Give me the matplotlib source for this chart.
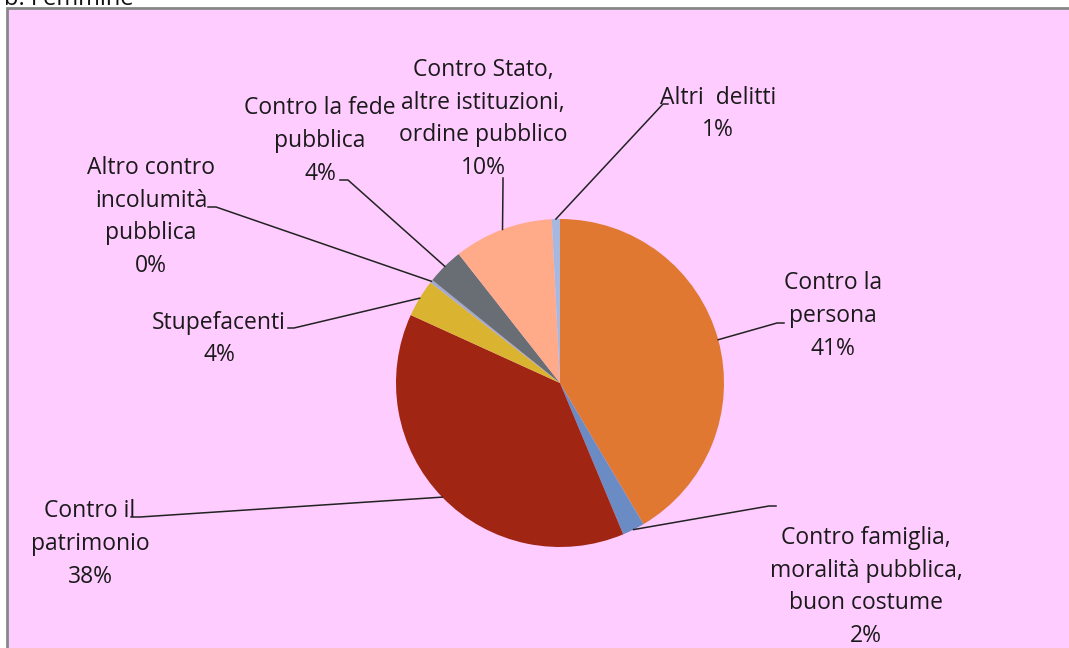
import numpy as np
import matplotlib

matplotlib.use("Agg")
import matplotlib.pyplot as plt
from matplotlib.patches import Rectangle

W, H = 1069, 648

# Reati - femmine, quota per categoria (%)
labels = [
    "Contro la\npersona\n41%",
    "Contro famiglia,\nmoralità pubblica,\nbuon costume\n2%",
    "Contro il\npatrimonio\n38%",
    "Stupefacenti\n4%",
    "Altro contro\nincolumità\npubblica\n0%",
    "Contro la fede\npubblica\n4%",
    "Contro Stato,\naltre istituzioni,\nordine pubblico\n10%",
    "Altri  delitti\n1%",
]
values = [41.5, 2.2, 38.1, 3.7, 0.3, 3.6, 9.8, 0.8]
colors = ["#E07832", "#6A8BC4", "#A02512", "#DAB431", "#A0AACC",
          "#686E74", "#FFAA88", "#A6B8E0"]

# layout in pixel coords (y from top): label centre, leader elbow, leader tail
label_xy = [(833, 316), (866, 587), (90, 544), (219, 339), (151, 217),
            (320, 141), (483, 119), (718, 114)]
elbow_xy = [(777, 323), (769, 506), (140, 517), (294, 328), (216, 207),
            (348, 180), (503, 184), (663, 104)]
tail_xy = [(784, 323), (776, 506), (131, 517), (288, 328), (208, 207),
           (340, 180), (503, 178), (668, 104)]

CX, CY, R = 560, 383, 164


def fy(y):
    return H - y


fig = plt.figure(figsize=(W / 100, H / 100), dpi=100)
ax = fig.add_axes([0, 0, 1, 1])

# pink chart area with grey frame
ax.add_patch(Rectangle((7, -5), W + 10, fy(8) + 5, facecolor="#FFCCFF",
                       edgecolor="#888888", linewidth=2, zorder=0))
ax.text(4, fy(5), "b. Femmine", fontsize=17, family="Open Sans",
        color="#111111", va="baseline", ha="left")

ax.pie(values, colors=colors, startangle=90, counterclock=False,
       center=(CX, fy(CY)), radius=R, frame=True,
       wedgeprops=dict(linewidth=0))
ax.set_xlim(0, W)
ax.set_ylim(0, H)
ax.set_aspect("equal")
ax.axis("off")

fracs = np.cumsum([0] + values) / sum(values)
for i, lab in enumerate(labels):
    mid = (fracs[i] + fracs[i + 1]) / 2 * 2 * np.pi
    px = CX + R * np.sin(mid)
    py = CY - R * np.cos(mid)
    ex, ey = elbow_xy[i]
    tx, ty = tail_xy[i]
    ax.plot([px, ex, tx], [fy(py), fy(ey), fy(ty)], color="#222222",
            linewidth=1.1, zorder=3)
    lx, ly = label_xy[i]
    ax.text(lx, fy(ly), lab, ha="center", va="center", fontsize=16.5,
            family="Open Sans", color="#1a1a1a", linespacing=1.48)

fig.savefig("out.png", dpi=100, facecolor="white")
